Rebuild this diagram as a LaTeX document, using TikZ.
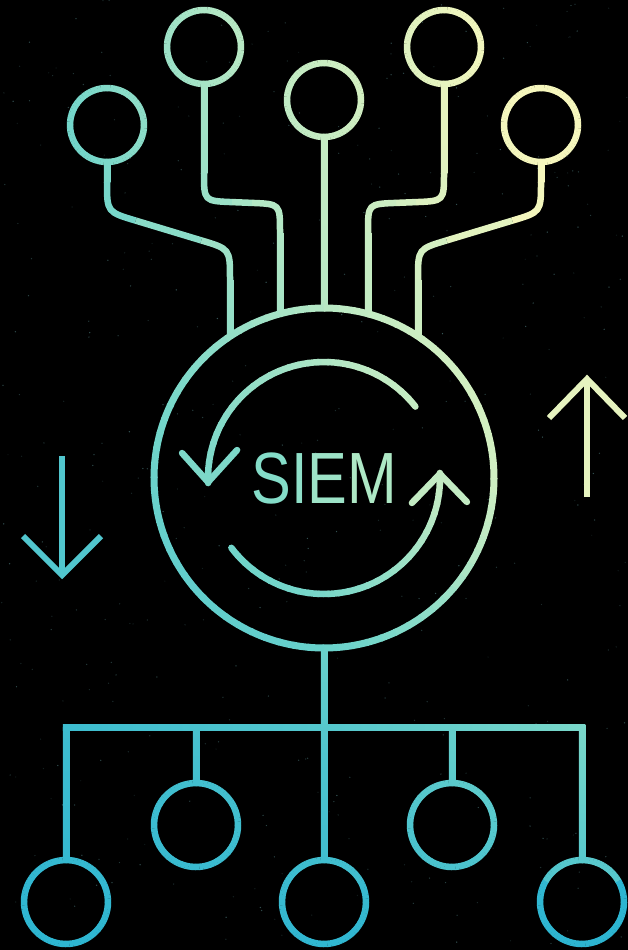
\documentclass[tikz,border=0pt]{standalone}
\usepackage{fontspec}
\setmainfont{Liberation Sans}
\definecolor{gc0}{HTML}{26B2D2}
\definecolor{gc1}{HTML}{74D6CA}
\definecolor{gc2}{HTML}{BDEAC4}
\definecolor{gc3}{HTML}{F6F7BD}
\definecolor{speckc}{HTML}{5A8E90}
\definecolor{sS}{HTML}{84DCC8}
\definecolor{sI}{HTML}{8FDFC8}
\definecolor{sE}{HTML}{9DE3C7}
\definecolor{sM}{HTML}{AEE8C5}
% colour of the gradient for a value t
\newcommand\gradcol[2]{%
  \pgfmathsetmacro\gtv{#2}%
  \ifdim\gtv pt<0.35pt
    \pgfmathsetmacro\gpp{\gtv/0.35*100}\colorlet{#1}{gc1!\gpp!gc0}%
  \else\ifdim\gtv pt<0.62pt
    \pgfmathsetmacro\gpp{(\gtv-0.35)/0.27*100}\colorlet{#1}{gc2!\gpp!gc1}%
  \else
    \pgfmathsetmacro\gpp{min(100,(\gtv-0.62)/0.38*100)}\colorlet{#1}{gc3!\gpp!gc2}%
  \fi\fi}
% colour of the gradient at image point (x,y)
\newcommand\gradxy[3]{%
  \pgfmathsetmacro\gx{#2}%
  \pgfmathsetmacro\hh{950-(#3)}%
  \pgfmathsetmacro\tA{\hh<70 ? 0.03+0.02*\hh/70 : (\hh<223 ? 0.05+0.03*(\hh-70)/153 : (\hh<472 ? 0.08+0.06*(\hh-223)/249 : (\hh<850 ? 0.14+0.12*(\hh-472)/378 : 0.26+0.02*(\hh-850)/100)))}%
  \pgfmathsetmacro\tB{\hh<70 ? 0.04+0.06*\hh/70 : (\hh<223 ? 0.10+0.10*(\hh-70)/153 : (\hh<472 ? 0.20+0.30*(\hh-223)/249 : (\hh<850 ? 0.50+0.18*(\hh-472)/378 : 0.68+0.04*(\hh-850)/100)))}%
  \pgfmathsetmacro\tC{\hh<70 ? 0.03 : (\hh<223 ? 0.22+0.18*(\hh-70)/153 : (\hh<472 ? 0.40+0.52*(\hh-223)/249 : (\hh<850 ? 0.92+0.28*(\hh-472)/378 : 1.2)))}%
  \pgfmathsetmacro\gtot{\gx<314 ? \tA+(\tB-\tA)*\gx/314 : \tB+(\tC-\tB)*(\gx-314)/314}%
  \gradcol{#1}{\gtot}}
% straight stroke between two named points, shaded along its length
\newcommand\sline[3][6.5]{%
  \path (#2) coordinate (slA); \path (#3) coordinate (slB);
  \pgfpointanchor{slA}{center}\pgfgetlastxy{\slax}{\slay}%
  \pgfpointanchor{slB}{center}\pgfgetlastxy{\slbx}{\slby}%
  \pgfmathsetmacro\slx{min(\slax,\slbx)}%
  \pgfmathsetmacro\slX{max(\slax,\slbx)}%
  \pgfmathsetmacro\sly{min((-1)*(\slay),(-1)*(\slby))}%
  \pgfmathsetmacro\slY{max((-1)*(\slay),(-1)*(\slby))}%
  \pgfmathsetmacro\slw{#1/2}%
  \ifdim\dimexpr\slY pt-\sly pt\relax<0.5pt
    \gradxy{cL}{\slx}{\sly}\gradxy{cM}{(\slx+\slX)/2}{\sly}\gradxy{cR}{\slX}{\sly}%
    \shade[left color=cL, right color=cR, middle color=cM] (\slx,\sly-\slw) rectangle (\slX,\sly+\slw);
  \else\ifdim\dimexpr\slX pt-\slx pt\relax<0.5pt
    \gradxy{cL}{\slx}{\sly}\gradxy{cM}{\slx}{(\sly+\slY)/2}\gradxy{cR}{\slx}{\slY}%
    \shade[top color=cL, bottom color=cR, middle color=cM] (\slx-\slw,\sly) rectangle (\slx+\slw,\slY);
  \else
    \gradxy{cM}{(\slx+\slX)/2}{(\sly+\slY)/2}%
    \draw[line width=#1pt, draw=cM] (slA) -- (slB);
  \fi\fi}
% rounded corner of a stroke
\newcommand\scurve[3]{%
  \path (#1) coordinate (scA); \path (#2) coordinate (scB); \path (#3) coordinate (scC);
  \pgfpointanchor{scB}{center}\pgfgetlastxy{\scbx}{\scby}%
  \pgfmathsetmacro\smy{(-1)*(\scby)}%
  \gradxy{segc}{\scbx}{\smy}%
  \draw[art, draw=segc] (scA) .. controls (scB) .. (scC);}
% arc round a named node, shaded piece by piece
\newcommand\sarc[5][]{%
  \pgfpointanchor{#2}{center}\pgfgetlastxy{\sacx}{\sacy}%
  \pgfmathtruncatemacro\san{max(1,ceil(abs((#5)-(#4))/5))}%
  \pgfmathsetmacro\sast{((#5)-(#4))/\san}%
  \pgfmathsetmacro\saov{((#5)>(#4)) ? 0.5 : -0.5}%
  \foreach \k in {1,...,\san}{%
    \pgfmathsetmacro\saa{(#4)+\sast*(\k-1)}%
    \pgfmathsetmacro\sab{(#4)+\sast*\k+\saov}%
    \pgfmathsetmacro\sam{(#4)+\sast*(\k-0.5)}%
    \pgfmathsetmacro\smx{(\sacx)+#3*cos(\sam)}%
    \pgfmathsetmacro\smy{(-1)*(\sacy)+#3*sin(\sam)}%
    \gradxy{segc}{\smx}{\smy}%
    \draw[art, draw=segc, #1] (#2.center) ++(\saa:#3) arc[start angle=\saa, end angle=\sab, radius=#3];
  }}
\tikzset{
  art/.style={line width=6.5pt},
  spot/.style={circle, inner sep=0pt, outer sep=0pt, minimum size=74pt},
  bspot/.style={circle, inner sep=0pt, outer sep=0pt, minimum size=84pt},
  hub/.style={circle, inner sep=0pt, outer sep=0pt, minimum size=340pt},
}
\begin{document}
\begin{tikzpicture}[x=1pt, y=-1pt]
  \useasboundingbox (0,0) rectangle (628,950);
  \fill[black] (0,0) rectangle (628,950);
  % faint specks
  \pgfmathsetseed{4242}
  \foreach \i in {1,...,420}{
    \pgfmathsetmacro\sx{rnd*628}
    \pgfmathsetmacro\sy{rnd*950}
    \pgfmathsetmacro\so{0.15+0.45*rnd}
    \fill[speckc, opacity=\so] (\sx,\sy) circle (0.7);
  }
  % ---- nodes ----
  \node[spot] (t1) at (107,125) {};
  \node[spot] (t2) at (204,47) {};
  \node[spot] (t3) at (324,100) {};
  \node[spot] (t4) at (444,47) {};
  \node[spot] (t5) at (541,125) {};
  \node[hub] (siem) at (324,478) {};
  \node[bspot] (b1) at (66,902) {};
  \node[bspot] (s2) at (196,825) {};
  \node[bspot] (b3) at (324,902) {};
  \node[bspot] (s4) at (452,825) {};
  \node[bspot] (b5) at (582,902) {};
  \coordinate (j1) at (230,336.4);
  \coordinate (j2) at (280,313.8);
  \coordinate (j3) at (324,308);
  \coordinate (j4) at (368,313.8);
  \coordinate (j5) at (418,336.4);
  \coordinate (k0) at (62.75,727.5);
  \coordinate (k1) at (66,727.5);
  \coordinate (k2) at (196,727.5);
  \coordinate (k4) at (452,727.5);
  \coordinate (k5) at (582,727.5);
  \coordinate (k6) at (585.25,727.5);
  % ---- top stems ----
  \sline{t1.south}{107,182}
  \scurve{107,182}{107,212}{135.7,220.6}
  \sline{135.7,220.6}{201.3,240.4}
  \scurve{201.3,240.4}{230,249}{230,279}
  \sline{230,279}{j1}
  \sline{t2.south}{204,173}
  \scurve{204,173}{204,201}{232,202.1}
  \sline{232,202.1}{252,202.9}
  \scurve{252,202.9}{280,204}{280,232}
  \sline{280,232}{j2}
  \sline{t3.south}{j3}
  \sline{t4.south}{444,173}
  \scurve{444,173}{444,201}{416,202.1}
  \sline{416,202.1}{396,202.9}
  \scurve{396,202.9}{368,204}{368,232}
  \sline{368,232}{j4}
  \sline{t5.south}{541,182}
  \scurve{541,182}{541,212}{512.3,220.6}
  \sline{512.3,220.6}{446.7,240.4}
  \scurve{446.7,240.4}{418,249}{418,279}
  \sline{418,279}{j5}
  % ---- bottom tree ----
  \sline{k0}{k6}
  \sline{k1}{b1.north}
  \sline{k5}{b5.north}
  \sline{siem.south}{b3.north}
  \sline{k2}{s2.north}
  \sline{k4}{s4.north}
  % ---- rings ----
  \foreach \n in {t1,t2,t3,t4,t5}{\sarc{\n}{37}{0}{360}}
  \sarc[line width=7pt]{siem}{170}{0}{360}
  \foreach \n in {b1,s2,b3,s4,b5}{\sarc{\n}{42}{0}{360}}
  % ---- cycle arrows ----
  \sarc[line cap=round]{siem}{116}{-38}{-182}
  \sarc[line cap=round]{siem}{116}{143}{-2}
  \coordinate (ta) at (208.07,482.05);
  \coordinate (tb) at (439.93,473.95);
  \gradxy{hta}{208}{470}
  \gradxy{htb}{440}{485}
  \draw[art, draw=hta, line cap=round, line join=round] (ta) ++(-26,-29) -- (ta) -- ++(29,-32);
  \draw[art, draw=htb, line cap=round, line join=round] (tb) ++(-28,29) -- (tb) -- ++(27,28);
  % ---- side arrows ----
  \coordinate (la) at (62,575);
  \coordinate (ra) at (587,379);
  \gradxy{arL}{62}{515}
  \gradxy{arR}{587}{440}
  \draw[art, draw=arL, line width=6pt] (62,456) -- (la);
  \draw[art, draw=arL, line width=6pt, line join=miter] (23,536) -- (la) -- (101,536);
  \draw[art, draw=arR, line width=6pt] (587,497) -- (ra);
  \draw[art, draw=arR, line width=6pt, line join=miter] (549,418) -- (ra) -- (625,418);
  % ---- label ----
  \node[font=\fontsize{72.6pt}{72.6pt}\selectfont, inner sep=0pt, anchor=base] (label) at (324.5,503.5)
    {\scalebox{0.82}[1]{\textcolor{sS}{S}\textcolor{sI}{I}\textcolor{sE}{E}\textcolor{sM}{M}}};
\end{tikzpicture}
\end{document}
